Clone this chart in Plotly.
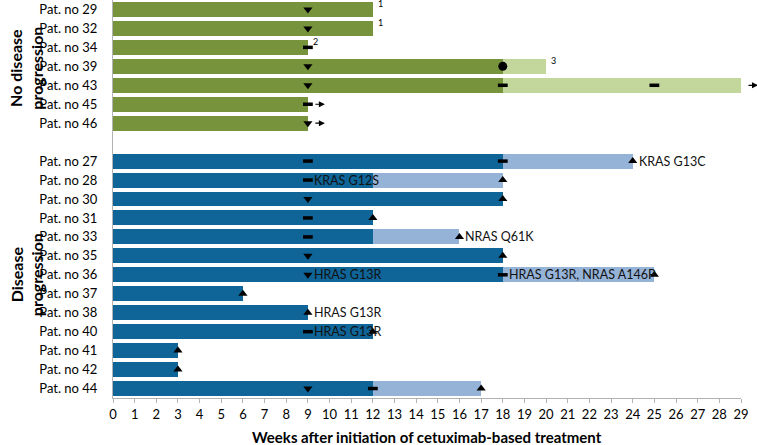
import plotly.graph_objects as go

# ---------------- data ----------------
nd_patients = ["Pat. no 29", "Pat. no 32", "Pat. no 34", "Pat. no 39", "Pat. no 43", "Pat. no 45", "Pat. no 46"]
nd_dark_end = [12, 12, 9, 18, 18, 9, 9]
nd_light_end = [None, None, None, 20, 29, None, None]

dp_patients = ["Pat. no 27", "Pat. no 28", "Pat. no 30", "Pat. no 31", "Pat. no 33", "Pat. no 35", "Pat. no 36",
               "Pat. no 37", "Pat. no 38", "Pat. no 40", "Pat. no 41", "Pat. no 42", "Pat. no 44"]
dp_dark_end = [18, 12, 18, 12, 12, 18, 18, 6, 9, 12, 3, 3, 12]
dp_light_end = [24, 18, None, None, 16, None, 25, None, None, None, None, None, 17]

down_tri_pat = ["Pat. no 29", "Pat. no 32", "Pat. no 39", "Pat. no 43", "Pat. no 46",
                "Pat. no 30", "Pat. no 35", "Pat. no 36", "Pat. no 44"]
down_tri_week = [9, 9, 9, 9, 9, 9, 9, 9, 9]

dash_pat = ["Pat. no 34", "Pat. no 43", "Pat. no 43", "Pat. no 45", "Pat. no 27", "Pat. no 27",
            "Pat. no 28", "Pat. no 31", "Pat. no 33", "Pat. no 36", "Pat. no 40", "Pat. no 44"]
dash_week = [9, 18, 25, 9, 9, 18, 9, 9, 9, 18, 9, 12]

up_tri_pat = ["Pat. no 27", "Pat. no 28", "Pat. no 30", "Pat. no 31", "Pat. no 33", "Pat. no 35", "Pat. no 36",
              "Pat. no 37", "Pat. no 38", "Pat. no 40", "Pat. no 41", "Pat. no 42", "Pat. no 44"]
up_tri_week = [24, 18, 18, 12, 16, 18, 25, 6, 9, 12, 3, 3, 17]

circle_pat = ["Pat. no 39"]
circle_week = [18]

note_pat = ["Pat. no 29", "Pat. no 32", "Pat. no 34", "Pat. no 39"]
note_week = [12, 12, 9, 20]
note_text = ["1", "1", "2", "3"]

mut_pat = ["Pat. no 27", "Pat. no 28", "Pat. no 33", "Pat. no 36", "Pat. no 36", "Pat. no 38", "Pat. no 40"]
mut_week = [24, 9, 16, 9, 18, 9, 9]
mut_text = ["KRAS G13C", "KRAS G12S", "NRAS Q61K", "HRAS G13R", "HRAS G13R, NRAS A146P", "HRAS G13R", "HRAS G13R"]

arrow_pat = ["Pat. no 43", "Pat. no 45", "Pat. no 46"]
arrow_week = [29, 9, 9]

x_ticks = list(range(0, 30))
x_title = "Weeks after initiation of cetuximab-based treatment"

# ---------------- layout helpers ----------------
rows = nd_patients + [""] + dp_patients
ypos = {p: i for i, p in enumerate(rows) if p}

GREEN_D, GREEN_L = "#77933C", "#C3D69B"
BLUE_D, BLUE_L = "#0F6498", "#95B3D7"
FONT = "Lato"

fig = go.Figure()
BW = 0.79


def add_bars(pats, dark, light, cd, cl):
    lp = [p for p, l in zip(pats, light) if l is not None]
    lb = [d for d, l in zip(dark, light) if l is not None]
    lx = [l - d for d, l in zip(dark, light) if l is not None]
    fig.add_trace(go.Bar(orientation="h", y=[ypos[p] for p in lp], x=lx, base=lb,
                         marker=dict(color=cl, line=dict(width=0)), width=BW, showlegend=False))
    fig.add_trace(go.Bar(orientation="h", y=[ypos[p] for p in pats], x=dark, base=[0] * len(pats),
                         marker=dict(color=cd, line=dict(width=0)), width=BW, showlegend=False))


add_bars(nd_patients, nd_dark_end, nd_light_end, GREEN_D, GREEN_L)
add_bars(dp_patients, dp_dark_end, dp_light_end, BLUE_D, BLUE_L)

fig.add_trace(go.Scatter(x=down_tri_week, y=[ypos[p] for p in down_tri_pat], mode="markers",
                         marker=dict(symbol="triangle-down", size=8, color="black"),
                         cliponaxis=False, showlegend=False))
fig.add_trace(go.Scatter(x=up_tri_week, y=[ypos[p] for p in up_tri_pat], mode="markers",
                         marker=dict(symbol="triangle-up", size=8, color="black"),
                         cliponaxis=False, showlegend=False))
fig.add_trace(go.Scatter(x=dash_week, y=[ypos[p] for p in dash_pat], mode="markers",
                         marker=dict(symbol="line-ew", size=7, color="black",
                                     line=dict(width=3.5, color="black")),
                         cliponaxis=False, showlegend=False))
fig.add_trace(go.Scatter(x=circle_week, y=[ypos[p] for p in circle_pat], mode="markers",
                         marker=dict(symbol="circle", size=9, color="black"),
                         cliponaxis=False, showlegend=False))

for p, w, t in zip(note_pat, note_week, note_text):
    fig.add_annotation(x=w, y=ypos[p], text=t, showarrow=False, xanchor="left", yanchor="middle",
                       xshift=3, yshift=6, font=dict(family=FONT, size=9, color="black"))

for p, w, t in zip(mut_pat, mut_week, mut_text):
    fig.add_annotation(x=w, y=ypos[p], text=t, showarrow=False, xanchor="left", yanchor="middle",
                       xshift=4, font=dict(family=FONT, size=12.5, color="#111111"))

for p, w in zip(arrow_pat, arrow_week):
    fig.add_annotation(x=w, y=ypos[p], text="", showarrow=True, ax=-11, ay=0,
                       xshift=17, arrowhead=2, arrowsize=1, arrowwidth=1.2, arrowcolor="black",
                       standoff=0, startstandoff=0)

fig.add_annotation(xref="paper", yref="y", x=-0.138, y=3, yshift=-2, text="<b>No disease<br>progression</b>",
                   textangle=-90, showarrow=False, xanchor="center", yanchor="middle",
                   font=dict(family=FONT, size=16, color="black"))
fig.add_annotation(xref="paper", yref="y", x=-0.138, y=14, yshift=0, text="<b>Disease<br>progression</b>",
                   textangle=-90, showarrow=False, xanchor="center", yanchor="middle",
                   font=dict(family=FONT, size=16, color="black"))
fig.add_annotation(xref="paper", yref="paper", x=0.5, y=0, yshift=-39, text="<b>" + x_title + "</b>",
                   showarrow=False, xanchor="center", yanchor="middle",
                   font=dict(family=FONT, size=15, color="black"))

fig.update_layout(
    width=757, height=445,
    margin=dict(l=113, r=16, t=0, b=47),
    plot_bgcolor="white", paper_bgcolor="white",
    barmode="overlay", bargap=0,
    font=dict(family=FONT, size=13, color="black"),
    xaxis=dict(range=[0, 29], tickvals=x_ticks, ticktext=[str(v) for v in x_ticks],
               showgrid=False, zeroline=False, showline=True, linecolor="#B3B3B3", linewidth=1,
               ticks="outside", ticklen=4, tickcolor="#B3B3B3", automargin=False,
               tickfont=dict(family=FONT, size=13, color="black")),
    yaxis=dict(range=[len(rows) - 0.5, -0.5], tickvals=list(ypos.values()), ticktext=list(ypos.keys()),
               showgrid=False, zeroline=False, showline=True, linecolor="#B3B3B3", linewidth=1,
               ticks="", ticklabelstandoff=12, automargin=False,
               tickfont=dict(family=FONT, size=13, color="black")),
)

fig.write_html("out.html", config={"displayModeBar": False},
               post_script="document.body.style.margin='0px';document.body.style.overflow='hidden';")
